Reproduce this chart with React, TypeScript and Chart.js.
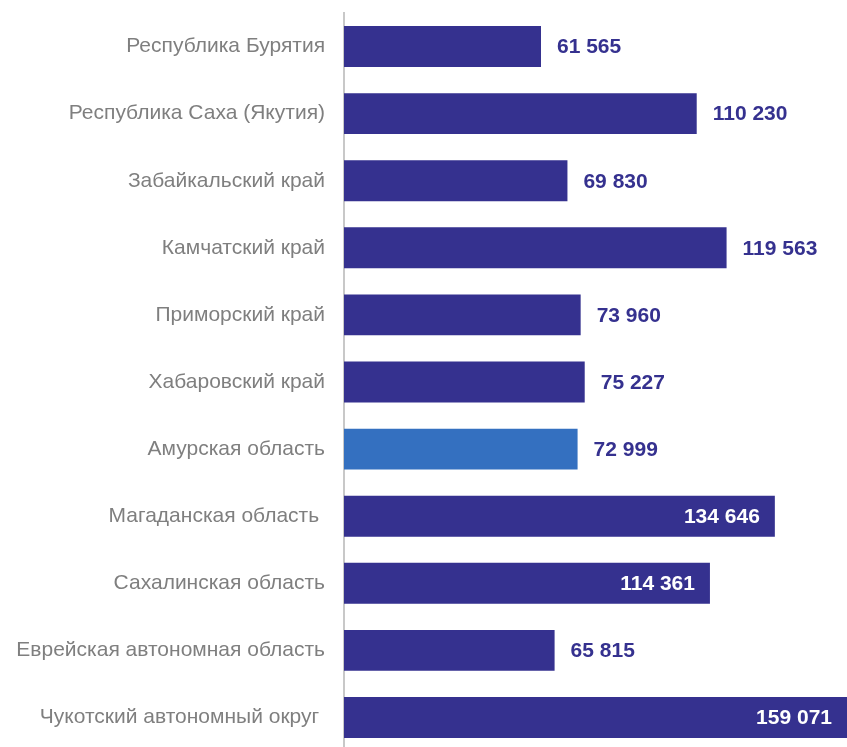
import React, { useEffect, useRef } from "react";
import { Chart, registerables } from "chart.js";

Chart.register(...registerables);

const categories = [
  "Республика Бурятия",
  "Республика Саха (Якутия)",
  "Забайкальский край",
  "Камчатский край",
  "Приморский край",
  "Хабаровский край",
  "Амурская область",
  "Магаданская область ",
  "Сахалинская область",
  "Еврейская автономная область",
  "Чукотский автономный округ ",
];

const values = [61565, 110230, 69830, 119563, 73960, 75227, 72999, 134646, 114361, 65815, 159071];

const valueLabels = ["61 565", "110 230", "69 830", "119 563", "73 960", "75 227", "72 999", "134 646", "114 361", "65 815", "159 071"];

const highlighted = ["Амурская область"];
const insideLabels = ["134 646", "114 361", "159 071"];

const BAR = "#35318F";
const HIGHLIGHT = "#3470C0";
const VISIBLE_W = 847;
const FONT = "'Liberation Sans', Arial, sans-serif";

const valueLabelPlugin = {
  id: "valueLabels",
  afterDatasetsDraw(chart: any) {
    const ctx = chart.ctx;
    const meta = chart.getDatasetMeta(0);
    ctx.save();
    ctx.font = "bold 21px " + FONT;
    ctx.textBaseline = "middle";
    meta.data.forEach((el: any, i: number) => {
      const label = valueLabels[i];
      if (insideLabels.includes(label)) {
        const end = Math.min(el.x, VISIBLE_W);
        ctx.fillStyle = "#FFFFFF";
        ctx.textAlign = "right";
        ctx.fillText(label, end - 15, el.y + 1);
      } else {
        ctx.fillStyle = BAR;
        ctx.textAlign = "left";
        ctx.fillText(label, el.x + 16, el.y + 1);
      }
    });
    ctx.restore();
  },
};

export default function App() {
  const ref = useRef<HTMLCanvasElement | null>(null);

  useEffect(() => {
    if (!ref.current) return;
    const chart = new Chart(ref.current, {
      type: "bar",
      data: {
        labels: categories,
        datasets: [
          {
            data: values,
            backgroundColor: categories.map((c) => (highlighted.includes(c) ? HIGHLIGHT : BAR)),
            borderWidth: 0,
            categoryPercentage: 1,
            barPercentage: 0.61,
          },
        ],
      },
      options: {
        indexAxis: "y",
        animation: false,
        responsive: false,
        devicePixelRatio: 1,
        layout: { padding: { top: 13, left: 0, right: 0, bottom: 0 } },
        plugins: {
          legend: { display: false },
          tooltip: { enabled: false },
        },
        scales: {
          x: {
            display: false,
            min: 0,
            max: 159071,
          },
          y: {
            afterFit: (scale: any) => {
              scale.width = 344;
              scale.paddingTop = 0;
              scale.paddingBottom = 0;
            },
            grid: { display: false, drawTicks: false },
            border: { display: true, color: "#C8C8C8", width: 2 },
            ticks: {
              color: "#7F7F7F",
              padding: 19,
              font: { family: FONT, size: 21 },
            },
          },
        },
      },
      plugins: [valueLabelPlugin],
    });
    return () => chart.destroy();
  }, []);

  return (
    <div
      style={{
        position: "fixed",
        left: 0,
        top: 0,
        width: 847,
        height: 747,
        overflow: "hidden",
        background: "#fff",
      }}
    >
      <canvas ref={ref} width={853} height={751} style={{ display: "block", width: 853, height: 751 }} />
    </div>
  );
}
